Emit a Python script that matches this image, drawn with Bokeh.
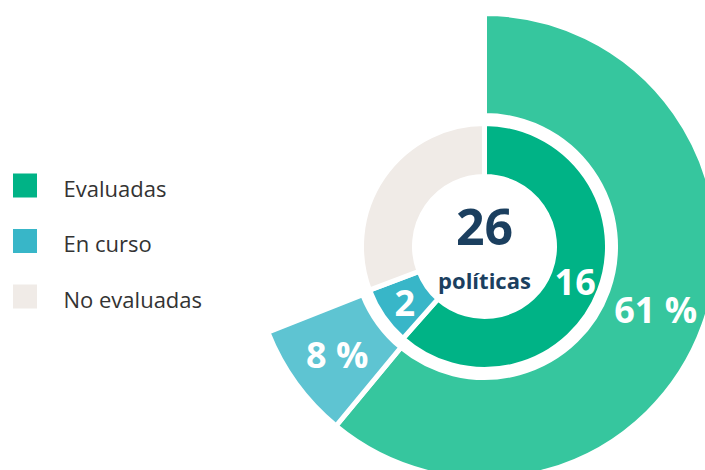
import numpy as np
from bokeh.plotting import figure
from bokeh.models import Range1d, ColumnDataSource
from bokeh.core.properties import value
from bokeh.embed import file_html
from bokeh.resources import INLINE

# ---- data ----
categories = ["Evaluadas", "En curso", "No evaluadas"]
counts = [16, 2, 8]
percents = [61, 8, 31]
percent_labels = ["61 %", "8 %", ""]
outer_visible = [True, True, False]
total_label = "26"
subtitle = "políticas"

inner_colors = ["#00B386", "#38B6C8", "#F0EBE7"]
outer_colors = ["#36C69E", "#5EC4D2", "#FFFFFF"]
legend_colors = ["#00B386", "#38B6C8", "#F0EBE7"]

FONT = "Open Sans"
W, H = 705, 470

p = figure(width=W, height=H, x_range=Range1d(0, W), y_range=Range1d(0, H),
           output_backend="svg", toolbar_location=None, min_border=0)
p.axis.visible = False
p.grid.visible = False
p.outline_line_color = None
p.background_fill_color = "white"
p.border_fill_color = "white"

cx, cy = 484, 224
r_in0, r_in1 = 70, 123
r_out0, r_out1 = 131, 233


def angles(vals):
    vals = np.asarray(vals, dtype=float)
    tot = vals.sum()
    ends = np.cumsum(vals) / tot
    starts = ends - vals / tot
    mids = (starts + ends) / 2
    conv = lambda f: np.pi / 2 - 2 * np.pi * f
    return conv(starts), conv(ends), conv(mids)

# inner ring
s, e, m = angles(counts)
inner = ColumnDataSource(dict(start=s, end=e, color=inner_colors))
p.annular_wedge(x=cx, y=cy, inner_radius=r_in0, outer_radius=r_in1,
                start_angle="start", end_angle="end", direction="clock",
                fill_color="color", line_color="white", line_width=5, source=inner)

# outer ring (only shown segments)
so, eo, mo = angles(percents)
idx = [i for i, v in enumerate(outer_visible) if v]
outer = ColumnDataSource(dict(start=so[idx], end=eo[idx],
                              color=[outer_colors[i] for i in idx]))
p.annular_wedge(x=cx, y=cy, inner_radius=r_out0, outer_radius=r_out1,
                start_angle="start", end_angle="end", direction="clock",
                fill_color="color", line_color="white", line_width=5, source=outer)

# inner labels (counts), only for the first two
r_lab_in = 97
lab_idx = [0, 1]
p.text(x=[cx + r_lab_in * np.cos(m[i]) for i in lab_idx],
       y=[cy + r_lab_in * np.sin(m[i]) - 1 for i in lab_idx],
       text=[str(counts[i]) for i in lab_idx],
       text_font=value(FONT), text_font_style="bold", text_font_size="36px",
       text_color="white", text_align="center", text_baseline="middle")

r_lab_out = 182
p.text(x=[cx + r_lab_out * np.cos(mo[i]) for i in idx],
       y=[cy + r_lab_out * np.sin(mo[i]) - 1 for i in idx],
       text=[percent_labels[i] for i in idx],
       text_font=value(FONT), text_font_style="bold", text_font_size="36px",
       text_color="white", text_align="center", text_baseline="middle")

# centre text
p.text(x=[cx], y=[cy + 20], text=[total_label], text_font=value(FONT),
       text_font_style="bold", text_font_size="50px", text_color="#1B3F5F",
       text_align="center", text_baseline="middle")
p.text(x=[cx], y=[cy - 33], text=[subtitle], text_font=value(FONT),
       text_font_style="bold", text_font_size="22px", text_color="#1B3F5F",
       text_align="center", text_baseline="middle")

# legend
ly = [285 - 55.5 * i for i in range(len(categories))]
p.scatter(x=[24.5] * len(categories), y=ly, marker="square", size=24,
          fill_color=legend_colors, line_color=None)
p.text(x=[63] * len(categories), y=[v - 2 for v in ly], text=categories,
       text_font=value(FONT), text_font_size="22px", text_color="#333333",
       text_align="left", text_baseline="middle")

open("out.html", "w").write(file_html(p, INLINE))
